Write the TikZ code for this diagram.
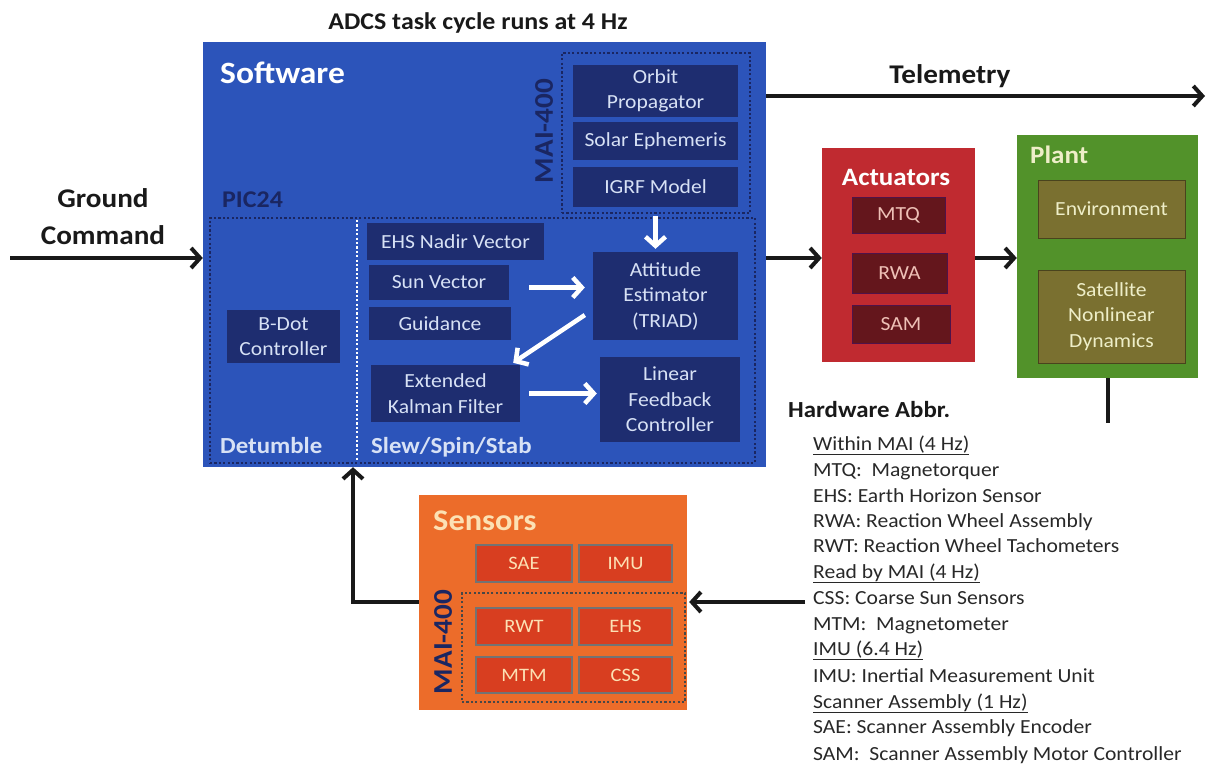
\documentclass[tikz,border=0pt]{standalone}
\usepackage{fontspec}
\setmainfont[FakeStretch=1.08]{Carlito}
\usetikzlibrary{arrows.meta,calc}
\newcommand\fs[2]{\fontsize{#1}{#2}\selectfont}
\definecolor{swblue}{RGB}{44,84,186}
\definecolor{swdark}{RGB}{30,45,112}
\definecolor{navytext}{RGB}{26,38,98}
\definecolor{sbtext}{RGB}{215,225,245}
\definecolor{actred}{RGB}{192,42,48}
\definecolor{actdark}{RGB}{100,22,28}
\definecolor{acttext}{RGB}{238,192,182}
\definecolor{plantgreen}{RGB}{82,146,42}
\definecolor{plantinner}{RGB}{122,112,48}
\definecolor{planttext}{RGB}{238,238,200}
\definecolor{sensorange}{RGB}{236,108,42}
\definecolor{sensinner}{RGB}{216,62,32}
\definecolor{senstext}{RGB}{252,225,180}
\definecolor{legtext}{RGB}{40,40,40}
\definecolor{blk}{RGB}{25,25,25}
\begin{document}
\begin{tikzpicture}[x=1pt,y=-1pt,
  panel/.style={inner sep=0pt},
  sub/.style={fill=swdark, text=sbtext, font=\fs{20}{25.5}, align=center, inner sep=0pt},
  actsub/.style={fill=actdark, draw=actdark!80!blue, line width=0.8pt, text=acttext, font=\fs{20}{25}, inner sep=0pt},
  plantsub/.style={fill=plantinner, draw=plantinner!60!black, line width=1pt, text=planttext, font=\fs{20}{25.5}, align=center, inner sep=0pt},
  senssub/.style={fill=sensinner, draw=black!55, line width=1.2pt, text=senstext, font=\fs{19}{23}, inner sep=0pt, minimum height=37pt},
  dotbox/.style={line width=2.2pt, dash pattern=on 2.2pt off 2.2pt, inner sep=0pt},
  ttl/.style={font=\bfseries\fs{23}{28}, inner sep=0pt},
  blkarrow/.style={draw=blk, line width=4pt, -{Straight Barb[length=9pt,width=20pt,line width=4pt]}},
  whtarrow/.style={draw=white, line width=4.5pt, -{Straight Barb[length=9pt,width=20pt,line width=4.5pt]}},
  legline/.style={anchor=base west, inner sep=0pt, text=legtext, font=\fs{20}{24}}
]
\useasboundingbox (0,0) rectangle (1209,766);

% title
\node[ttl, text=blk, font=\bfseries\fs{24}{28}, anchor=base] (title) at (478,29) {ADCS task cycle runs at 4 Hz};

% software panel
\node[panel, fill=swblue, minimum width=563pt, minimum height=425pt] (sw) at (484.5,254.5) {};
\node[ttl, text=white, font=\bfseries\fs{31}{36}, anchor=base west] (swlbl) at (220,83) {Software};
\node[dotbox, draw=navytext, minimum width=188pt, minimum height=160pt] (mai) at (656,133) {};
\node[ttl, text=navytext, font=\bfseries\fs{27}{30}, rotate=90] (mailbl) at (544,131) {MAI-400};
\node[ttl, text=navytext, font=\bfseries\fs{24}{28}, anchor=base west] (piclbl) at (222,207) {PIC24};
\node[dotbox, draw=navytext, minimum width=545pt, minimum height=245pt] (pic) at (482.5,340.5) {};
\coordinate (divtop) at (357,220);
\coordinate (divbot) at (357,461);
\draw[white, line width=2.2pt, dash pattern=on 2.2pt off 2.2pt] (divtop) -- (divbot);

\node[sub, minimum width=165pt, minimum height=52pt] (orbit) at (655.5,91) {Orbit\\Propagator};
\node[sub, minimum width=165pt, minimum height=38pt] (solar) at (655.5,141) {Solar Ephemeris};
\node[sub, minimum width=165pt, minimum height=40pt] (igrf) at (655.5,187) {IGRF Model};
\node[sub, minimum width=177pt, minimum height=37pt] (ehs) at (455.5,241.5) {EHS Nadir Vector};
\node[sub, minimum width=140pt, minimum height=35pt] (sun) at (439,282.5) {Sun Vector};
\node[sub, minimum width=142pt, minimum height=33pt] (guid) at (440,323.5) {Guidance};
\node[sub, minimum width=145pt, minimum height=88pt] (att) at (665.5,296) {Attitude\\Estimator\\(TRIAD)};
\node[sub, minimum width=113pt, minimum height=53pt] (bdot) at (283.5,336.5) {B-Dot\\Controller};
\node[sub, minimum width=149pt, minimum height=57pt] (ekf) at (445.5,393.5) {Extended\\Kalman Filter};
\node[sub, minimum width=140pt, minimum height=85pt] (lfc) at (670,399.5) {Linear\\Feedback\\Controller};
\node[ttl, text=sbtext, anchor=base west] (detlbl) at (220,453) {Detumble};
\node[ttl, text=sbtext, anchor=base west] (slewlbl) at (371,453) {Slew/Spin/Stab};

% white arrows
\draw[whtarrow] ($(igrf.south)+(0,9)$) -- ($(igrf.south |- att.north)+(0,-3)$);
\draw[whtarrow] ($(sun.east)+(20,5)$) -- ($(att.west |- sun.east)+(-8,5)$);
\draw[whtarrow] ($(att.west)+(-8,19)$) -- ($(ekf.north east)+(-7,-2)$);
\draw[whtarrow] ($(ekf.east)+(9,0)$) -- ($(ekf.east -| lfc.west)+(-3,0)$);

% actuators
\node[panel, fill=actred, minimum width=153pt, minimum height=214pt] (act) at (898.5,255) {};
\node[ttl, text=white, font=\bfseries\fs{25}{30}, anchor=base] (actlbl) at (896,185) {Actuators};
\node[actsub, minimum width=93pt, minimum height=36pt] (mtq) at (898.5,215) {MTQ};
\node[actsub, minimum width=95pt, minimum height=40pt] (rwa) at (899.5,273) {RWA};
\node[actsub, minimum width=98pt, minimum height=38pt] (sam) at (901,324) {SAM};

% plant
\node[panel, fill=plantgreen, minimum width=181pt, minimum height=243pt] (plant) at (1107.5,256.5) {};
\node[ttl, text=planttext, font=\bfseries\fs{25}{30}, anchor=base west] (plantlbl) at (1030,163) {Plant};
\node[plantsub, minimum width=147pt, minimum height=58pt] (env) at (1111.5,209) {Environment};
\node[plantsub, minimum width=147pt, minimum height=93pt] (sat) at (1111.5,316.5) {Satellite\\Nonlinear\\Dynamics};

% sensors
\node[panel, fill=sensorange, minimum width=268pt, minimum height=215pt] (sens) at (553,602.5) {};
\node[ttl, text=senstext, font=\bfseries\fs{30}{34}, anchor=base west] (senslbl) at (433,530) {Sensors};
\node[senssub, minimum width=96pt] (sae) at (524,563.5) {SAE};
\node[senssub, minimum width=93pt] (imu) at (625.5,563.5) {IMU};
\node[dotbox, draw=blk!80, minimum width=223pt, minimum height=109pt] (smai) at (573.5,647.5) {};
\node[senssub, minimum width=96pt] (rwt) at (524,626.5) {RWT};
\node[senssub, minimum width=93pt] (ehss) at (625.5,626.5) {EHS};
\node[senssub, minimum width=96pt, minimum height=36pt] (mtm) at (524,675) {MTM};
\node[senssub, minimum width=93pt, minimum height=36pt] (css) at (625.5,675) {CSS};
\node[ttl, text=navytext, font=\bfseries\fs{27}{30}, rotate=90] (smailbl) at (443,642) {MAI-400};

% outside labels
\node[ttl, text=blk, font=\bfseries\fs{27}{30}, anchor=base] (tellbl) at (950,83) {Telemetry};
\node[ttl, text=blk, font=\bfseries\fs{27}{30}, anchor=base] (gclbl1) at (103,207) {Ground};
\node[ttl, text=blk, font=\bfseries\fs{27}{30}, anchor=base] (gclbl2) at (103,244) {Command};

% black connectors
\coordinate (gcstart) at (10,258);
\coordinate (telend) at (1205,96);
\coordinate (midrow) at (0,258);
\coordinate (plantend) at (1108,423);
\coordinate (sensin) at (805,602);
\coordinate (fbrow) at (0,602);
\coordinate (fbcol) at (353,0);
\draw[blkarrow] (gcstart) -- (gcstart -| sw.west);
\draw[blkarrow] (sw.east |- telend) -- (telend);
\draw[blkarrow] (sw.east |- midrow) -- (act.west |- midrow);
\draw[blkarrow] (act.east |- midrow) -- (plant.west |- midrow);
\draw[draw=blk, line width=4pt] (plant.south -| plantend) -- (plantend);
\draw[blkarrow] (sensin) -- ($(sensin -| sens.east)+(2,0)$);
\draw[blkarrow] (sens.west |- fbrow) -| (fbcol |- sw.south);

% legend
\node[ttl, text=blk, font=\bfseries\fs{23}{28}, anchor=base west] (hwlbl) at (788,417) {Hardware Abbr.};
\node[legline] (leg1) at (813,450) {\underline{Within MAI (4 Hz)}};
\node[legline] (leg2) at (813,476) {MTQ:\ \ Magnetorquer};
\node[legline] (leg3) at (813,502) {EHS: Earth Horizon Sensor};
\node[legline] (leg4) at (813,527) {RWA: Reaction Wheel Assembly};
\node[legline] (leg5) at (813,552) {RWT: Reaction Wheel Tachometers};
\node[legline] (leg6) at (813,578) {\underline{Read by MAI (4 Hz)}};
\node[legline] (leg7) at (813,604) {CSS: Coarse Sun Sensors};
\node[legline] (leg8) at (813,630) {MTM:\ \ Magnetometer};
\node[legline] (leg9) at (813,655) {\underline{IMU (6.4 Hz)}};
\node[legline] (leg10) at (813,682) {IMU: Inertial Measurement Unit};
\node[legline] (leg11) at (813,708) {\underline{Scanner Assembly (1 Hz)}};
\node[legline] (leg12) at (813,733) {SAE: Scanner Assembly Encoder};
\node[legline] (leg13) at (813,760) {SAM:\ \ Scanner Assembly Motor Controller};
\end{tikzpicture}
\end{document}
